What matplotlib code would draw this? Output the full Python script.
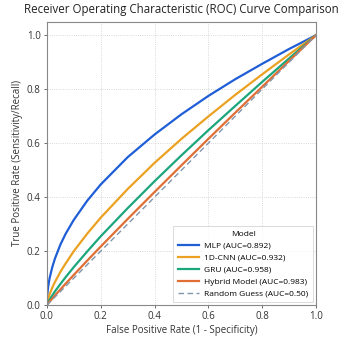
import matplotlib
matplotlib.use("Agg")
import matplotlib.pyplot as plt

plt.rcParams['font.family'] = ['Open Sans', 'DejaVu Sans']

fpr = [0.0, 0.0005, 0.002, 0.005, 0.01, 0.02, 0.03, 0.05, 0.07, 0.1, 0.15, 0.2, 0.3, 0.4, 0.5, 0.6, 0.7, 0.8, 0.9, 1.0]
tpr_mlp = [0.0, 0.022, 0.045, 0.071, 0.100, 0.141, 0.173, 0.224, 0.265, 0.316, 0.387, 0.447, 0.548, 0.632, 0.707, 0.775, 0.837, 0.894, 0.949, 1.0]
tpr_cnn = [0.0, 0.005, 0.013, 0.024, 0.040, 0.065, 0.086, 0.123, 0.155, 0.200, 0.265, 0.324, 0.430, 0.527, 0.616, 0.699, 0.779, 0.855, 0.929, 1.0]
tpr_gru = [0.0, 0.002, 0.005, 0.011, 0.020, 0.036, 0.051, 0.078, 0.104, 0.141, 0.199, 0.255, 0.359, 0.459, 0.555, 0.648, 0.738, 0.827, 0.914, 1.0]
tpr_hyb = [0.0, 0.001, 0.003, 0.007, 0.013, 0.024, 0.036, 0.058, 0.080, 0.112, 0.165, 0.217, 0.319, 0.419, 0.518, 0.616, 0.713, 0.809, 0.905, 1.0]
rand_x = [0.0, 1.0]
rand_y = [0.0, 1.0]

labels = ["MLP (AUC=0.892)", "1D-CNN (AUC=0.932)", "GRU (AUC=0.958)",
          "Hybrid Model (AUC=0.983)", "Random Guess (AUC=0.50)"]
colors = ["#1f5ed6", "#eba121", "#1ba67b", "#df6f35", "#8196ab"]

fig = plt.figure(figsize=(3.45, 3.39), dpi=100)
ax = fig.add_axes([0.136, 0.100, 0.780, 0.836])

for y, lab, c in zip([tpr_mlp, tpr_cnn, tpr_gru, tpr_hyb], labels[:4], colors[:4]):
    ax.plot(fpr, y, color=c, lw=1.6, label=lab)
ax.plot(rand_x, rand_y, color=colors[4], lw=1.0, ls=(0, (4, 2.5)), label=labels[4])

ax.set_xlim(0, 1.0)
ax.set_ylim(0, 1.05)
ax.set_xticks([0, 0.2, 0.4, 0.6, 0.8, 1.0])
ax.set_yticks([0, 0.2, 0.4, 0.6, 0.8, 1.0])
ax.tick_params(labelsize=7, length=2.5, width=0.6, colors="#555555", labelcolor="#333333", pad=2)
ax.grid(True, ls=":", lw=0.6, color="#cccccc")
for s in ax.spines.values():
    s.set_color("#888888")
    s.set_linewidth(0.8)

ax.set_title("Receiver Operating Characteristic (ROC) Curve Comparison", fontsize=8.3, color="#222222", pad=6)
ax.set_xlabel("False Positive Rate (1 - Specificity)", fontsize=7, color="#333333", labelpad=2)
ax.set_ylabel("True Positive Rate (Sensitivity/Recall)", fontsize=7, color="#333333", labelpad=3)

leg = ax.legend(title="Model", loc="lower right", fontsize=6.0, title_fontsize=6.0,
                frameon=True, handlelength=2.6, borderpad=0.55, labelspacing=0.5,
                handletextpad=0.6, borderaxespad=0.35, fancybox=False)
leg.get_frame().set_edgecolor("#cccccc")
leg.get_frame().set_linewidth(0.6)

fig.savefig("out.png", dpi=100)
